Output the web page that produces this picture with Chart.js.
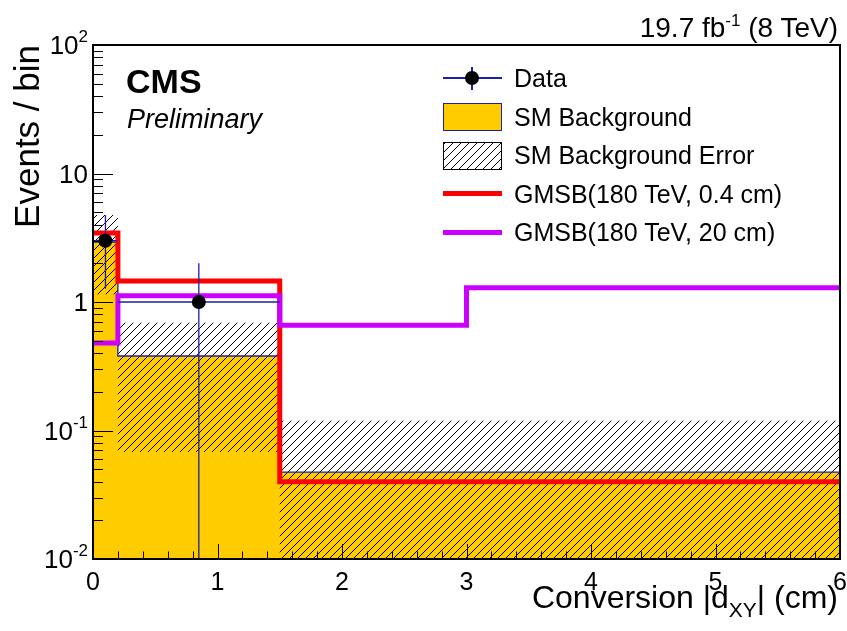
<!DOCTYPE html>
<html><head><meta charset="utf-8">
<script src="https://cdn.jsdelivr.net/npm/chart.js@4.4.1/dist/chart.umd.min.js"></script>
<style>
html,body{margin:0;padding:0;background:#fff;}
#wrap{position:relative;width:847px;height:631px;font-family:"Liberation Sans",Arial,Helvetica,sans-serif;color:#000;overflow:hidden}
#c{position:absolute;left:0;top:0}
.t{position:absolute;white-space:nowrap;line-height:1}
.leg{position:absolute;left:514px;font-size:25px;line-height:1;transform:translateY(-50%);white-space:nowrap}
.sym{position:absolute;box-sizing:border-box}
</style></head><body>
<div id="wrap">
<canvas id="c" width="847" height="631"></canvas>
<div class="t" style="right:9px;top:14px;font-size:28px">19.7 fb<sup style="font-size:17px;vertical-align:0;position:relative;top:-11px">-1</sup> (8 TeV)</div>
<div class="t" style="left:126px;top:64px;font-size:34px;font-weight:bold">CMS</div>
<div class="t" style="left:127px;top:106px;font-size:27px;font-style:italic">Preliminary</div>
<div class="t" style="left:9px;top:45px;font-size:35px;transform-origin:0 0;transform:translate(0px,200px) rotate(-90deg);width:200px;text-align:right">Events / bin</div>
<div class="t" style="right:9px;top:581px;font-size:32px">Conversion |d<sub style="font-size:21px;vertical-align:0;position:relative;top:9px">XY</sub>| (cm)</div>
<!-- legend -->
<div class="sym" style="left:443px;top:77px;width:59px;height:1.5px;background:#1d1db0"></div>
<div class="sym" style="left:471px;top:67px;width:1.5px;height:23px;background:#1d1db0"></div>
<div class="sym" style="left:465px;top:71px;width:14px;height:14px;border-radius:50%;background:#000"></div>
<div class="leg" style="top:78px">Data</div>
<div class="sym" style="left:443px;top:103px;width:59px;height:28px;background:#ffcc00;border:1px solid #1d1db0"></div>
<div class="leg" style="top:117px">SM Background</div>
<div class="sym" style="left:443px;top:142px;width:59px;height:28px;border:1px solid #000;background:repeating-linear-gradient(135deg,#000 0 1px,transparent 1px 5.66px)"></div>
<div class="leg" style="top:155px">SM Background Error</div>
<div class="sym" style="left:443px;top:191px;width:59px;height:5px;background:#ff0000"></div>
<div class="leg" style="top:194px">GMSB(180 TeV, 0.4 cm)</div>
<div class="sym" style="left:443px;top:230px;width:59px;height:5px;background:#cc00ff"></div>
<div class="leg" style="top:232px">GMSB(180 TeV, 20 cm)</div>
</div>
<script>
// ---- data ----
const bkgEdges = [0, 0.2, 1.5, 6];
const bkgValues = [2.93, 0.38, 0.0475];
const bkgErrUp = [4.75, 0.69, 0.119];
const bkgErrDown = [1.15, 0.068, 0.001];
const sigEdges = [0, 0.2, 1.5, 3, 6];
const gmsb04cm = [3.44, 1.46, 0.04, 0.04];
const gmsb20cm = [0.48, 1.12, 0.66, 1.29];
const dataX = [0.1, 0.85];
const dataXLow = [0, 0.2];
const dataXHigh = [0.2, 1.5];
const dataY = [3, 1];
const dataYLow = [1.27, 0];
const dataYHigh = [4.73, 2.0];
const xTickLabels = [0, 1, 2, 3, 4, 5, 6];
const yTickExponents = [-2, -1, 0, 1, 2];

const BLUE = '#1d1db0';
const steps = (edges, vals) => edges.map((x, i) => ({x, y: vals[Math.min(i, vals.length - 1)]}));

const canvas = document.getElementById('c');
const mainCtx = canvas.getContext('2d');
const hatch = (() => {
  const t = document.createElement('canvas'); t.width = 8; t.height = 8;
  const g = t.getContext('2d');
  g.strokeStyle = '#000'; g.lineWidth = 1;
  g.beginPath();
  g.moveTo(0, 8); g.lineTo(8, 0);
  g.moveTo(-4, 4); g.lineTo(4, -4);
  g.moveTo(4, 12); g.lineTo(12, 4);
  g.stroke();
  return mainCtx.createPattern(t, 'repeat');
})();

const errorBars = {
  id: 'errorBars',
  beforeDatasetDraw(chart, args) {
    if (args.index !== 0) return;
    const {ctx, chartArea: a} = chart;
    const xs = chart.scales.x, ys = chart.scales.y;
    const yp = v => ys.getPixelForValue(Math.max(v, ys.min / 10));
    ctx.save();
    ctx.beginPath(); ctx.rect(a.left, a.top, a.width, a.height); ctx.clip();
    ctx.strokeStyle = BLUE; ctx.lineWidth = 1.3;
    ctx.beginPath();
    for (let i = 0; i < dataX.length; i++) {
      const py = yp(dataY[i]), px = xs.getPixelForValue(dataX[i]);
      ctx.moveTo(xs.getPixelForValue(dataXLow[i]), py);
      ctx.lineTo(xs.getPixelForValue(dataXHigh[i]), py);
      ctx.moveTo(px, yp(dataYLow[i]));
      ctx.lineTo(px, yp(dataYHigh[i]));
    }
    ctx.stroke();
    ctx.restore();
  }
};

const axesDraw = {
  id: 'axesDraw',
  afterDraw(chart) {
    const {ctx, chartArea: a} = chart;
    const xs = chart.scales.x, ys = chart.scales.y;
    ctx.save();
    ctx.strokeStyle = '#000'; ctx.lineWidth = 1;
    ctx.beginPath();
    for (let e = -2; e <= 1; e++) {
      for (let m = 1; m <= 9; m++) {
        const py = Math.round(ys.getPixelForValue(m * Math.pow(10, e))) + 0.5;
        const len = m === 1 ? 20 : 10;
        ctx.moveTo(a.left, py); ctx.lineTo(a.left + len, py);
      }
    }
    for (let k = 0; k <= 30; k++) {
      const v = k * 0.2;
      const px = Math.round(xs.getPixelForValue(v)) + 0.5;
      const len = k % 5 === 0 ? 15 : 7.5;
      ctx.moveTo(px, a.bottom); ctx.lineTo(px, a.bottom - len);
    }
    ctx.stroke();
    ctx.lineWidth = 2;
    ctx.strokeRect(a.left, a.top, a.width, a.height);
    ctx.fillStyle = '#000';
    ctx.font = '25px "Liberation Sans", Arial, sans-serif';
    ctx.textBaseline = 'alphabetic';
    ctx.textAlign = 'center';
    xTickLabels.forEach(v => {
      ctx.fillText(String(v), xs.getPixelForValue(v), a.bottom + 31);
    });
    ctx.textAlign = 'left';
    const rightEdge = a.left - 5;
    yTickExponents.forEach(e => {
      const py = ys.getPixelForValue(Math.pow(10, e));
      const base = py + 9;
      ctx.font = '26px "Liberation Sans", Arial, sans-serif';
      if (e === 0 || e === 1) {
        const s = e === 0 ? '1' : '10';
        const w = ctx.measureText(s).width;
        ctx.fillText(s, rightEdge - w, base);
      } else {
        const main = '10', sup = String(e);
        const w1 = ctx.measureText(main).width;
        ctx.font = '17px "Liberation Sans", Arial, sans-serif';
        const w2 = ctx.measureText(sup).width;
        const x0 = rightEdge - w1 - w2;
        ctx.fillText(sup, x0 + w1, base - 12);
        ctx.font = '26px "Liberation Sans", Arial, sans-serif';
        ctx.fillText(main, x0, base);
      }
    });
    ctx.restore();
  }
};

const lineDefaults = {stepped: 'before', pointRadius: 0, borderJoinStyle: 'miter', borderCapStyle: 'butt', tension: 0};

new Chart(canvas, {
  type: 'line',
  data: {
    datasets: [
      {label: 'Data', data: dataX.map((x, i) => ({x, y: dataY[i]})), showLine: false,
       pointRadius: 7, pointBackgroundColor: '#000', pointBorderWidth: 0, pointStyle: 'circle', order: 0},
      Object.assign({label: 'GMSB(180 TeV, 20 cm)', data: steps(sigEdges, gmsb20cm), borderColor: '#cc00ff', borderWidth: 5, fill: false, order: 1}, lineDefaults),
      Object.assign({label: 'GMSB(180 TeV, 0.4 cm)', data: steps(sigEdges, gmsb04cm), borderColor: '#ff0000', borderWidth: 5, fill: false, order: 2}, lineDefaults),
      Object.assign({label: 'SM Background outline', data: steps(bkgEdges, bkgValues), borderColor: BLUE, borderWidth: 1.3, fill: false, order: 3}, lineDefaults),
      Object.assign({label: 'SM Background Error', data: steps(bkgEdges, bkgErrUp), borderWidth: 0, borderColor: 'rgba(0,0,0,0)', backgroundColor: hatch, fill: {target: 5}, order: 4}, lineDefaults),
      Object.assign({label: 'err low', data: steps(bkgEdges, bkgErrDown), borderWidth: 0, borderColor: 'rgba(0,0,0,0)', fill: false, order: 5}, lineDefaults),
      Object.assign({label: 'SM Background', data: steps(bkgEdges, bkgValues), borderWidth: 0, borderColor: 'rgba(0,0,0,0)', backgroundColor: '#ffcc00', fill: 'start', order: 6}, lineDefaults)
    ]
  },
  options: {
    responsive: false,
    animation: false,
    devicePixelRatio: 1,
    layout: {padding: {left: 93, right: 6, top: 45, bottom: 72}},
    plugins: {legend: {display: false}, tooltip: {enabled: false}},
    scales: {
      x: {type: 'linear', min: 0, max: 6, display: false},
      y: {type: 'logarithmic', min: 0.01, max: 100, display: false}
    }
  },
  plugins: [errorBars, axesDraw]
});
</script>
</body></html>
